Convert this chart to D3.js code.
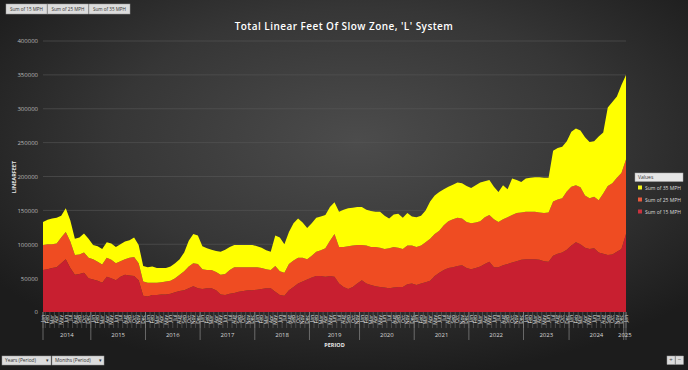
<!DOCTYPE html>
<html>
<head>
<meta charset="utf-8">
<script src="https://cdn.jsdelivr.net/npm/d3@7"></script>
<style>
  html, body { margin: 0; padding: 0; background: #222; }
  svg { display: block; }
  text { font-family: "Open Sans", "Noto Sans", sans-serif; }
</style>
</head>
<body>
<svg id="chart" width="688" height="370"></svg>
<script>
// ---------------- DATA ----------------
const title = "Total Linear Feet Of Slow Zone, 'L' System";
const seriesNames = ["Sum of 15 MPH", "Sum of 25 MPH", "Sum of 35 MPH"];
const years = ["2014","2015","2016","2017","2018","2019","2020","2021","2022","2023","2024","2025"];
const monthsByYear = [
  ["Jan","Feb","Mar","Apr","May","Jun","Jul","Aug","Sep","Oct","Dec"],
  ["Jan","Feb","Mar","Apr","May","Jun","Jul","Aug","Sep","Oct","Nov","Dec"],
  ["Jan","Feb","Mar","Apr","May","Jun","Jul","Aug","Sep","Oct","Nov","Dec"],
  ["Jan","Feb","Mar","Apr","May","Jun","Jul","Aug","Sep","Oct","Nov","Dec"],
  ["Jan","Feb","Mar","Apr","May","Jun","Jul","Aug","Sep","Oct","Nov","Dec"],
  ["Jan","Feb","Mar","Apr","May","Jun","Jul","Aug","Sep","Oct","Nov"],
  ["Jan","Feb","Mar","Apr","May","Jun","Jul","Aug","Sep","Oct","Nov","Dec"],
  ["Jan","Feb","Mar","Apr","May","Jun","Jul","Aug","Sep","Oct","Nov","Dec"],
  ["Jan","Feb","Mar","Apr","May","Jun","Jul","Aug","Sep","Oct","Nov","Dec"],
  ["Jan","Feb","Mar","Apr","May","Jun","Jul","Aug","Oct","Dec"],
  ["Jan","Feb","Mar","Apr","May","Jun","Jul","Aug","Sep","Oct","Nov","Dec"],
  ["Jan"]
];
// Values in linear feet, one per period, in period order
const mph15 = [
  62000,63000,65000,66000,72000,78000,65000,55000,56000,58000,50000,
  48000,46000,43000,52000,50000,47000,52000,55000,54000,53000,47000,24000,
  23000,25000,25000,26000,26000,27000,29000,31000,32000,35000,38000,35000,
  34000,35000,35000,32000,26000,25000,27000,28000,30000,31000,32000,32000,
  33000,34000,35000,35000,30000,25000,24000,32000,37000,42000,45000,48000,
  51000,53000,53000,52000,53000,52000,42000,37000,34000,37000,42000,
  47000,42000,40000,38000,37000,36000,35000,36000,37000,37000,41000,42000,
  40000,42000,44000,46000,53000,58000,62000,65000,66000,68000,69000,65000,
  63000,65000,67000,71000,74000,66000,66000,69000,71000,73000,75000,77000,
  78000,78000,78000,77000,75000,74000,83000,86000,88000,92000,
  98000,103000,100000,95000,93000,94000,88000,86000,84000,85000,89000,93000,
  115000
];
const mph25 = [
  37000,37000,35000,35000,38000,40000,39000,29000,29000,30000,30000,
  30000,28000,27000,28000,27000,25000,23000,23000,26000,28000,25000,21000,
  20000,18000,18000,18000,19000,19000,21000,24000,28000,32000,34000,36000,
  29000,27000,27000,27000,29000,31000,35000,38000,36000,35000,34000,34000,
  33000,31000,28000,27000,38000,35000,34000,39000,39000,38000,35000,30000,
  32000,36000,38000,42000,52000,63000,54000,59000,63000,61000,57000,
  52000,56000,56000,58000,58000,57000,59000,60000,58000,56000,57000,56000,
  56000,56000,59000,62000,62000,62000,66000,69000,71000,71000,69000,68000,
  68000,67000,67000,69000,69000,71000,67000,68000,69000,70000,71000,70000,
  70000,70000,70000,70000,71000,73000,80000,80000,80000,86000,
  87000,84000,84000,77000,75000,76000,77000,89000,102000,105000,109000,112000,
  110000
];
const mph35 = [
  34000,36000,38000,38000,32000,35000,31000,24000,25000,28000,28000,
  21000,23000,23000,23000,24000,24000,25000,26000,26000,29000,27000,23000,
  23000,24000,22000,21000,20000,21000,22000,23000,28000,38000,43000,42000,
  34000,32000,30000,31000,34000,36000,34000,33000,33000,33000,33000,33000,
  31000,30000,28000,27000,45000,50000,42000,47000,55000,58000,52000,46000,
  48000,50000,50000,49000,50000,47000,52000,55000,56000,56000,56000,
  56000,53000,53000,52000,53000,49000,44000,48000,50000,46000,48000,43000,
  44000,44000,47000,55000,57000,57000,53000,51000,51000,52000,52000,53000,
  52000,55000,57000,53000,52000,48000,44000,50000,41000,54000,49000,45000,
  49000,50000,51000,52000,52000,51000,75000,76000,76000,74000,
  81000,84000,84000,86000,83000,82000,94000,90000,116000,120000,120000,130000,
  125000
];
const yTicks = [0,50000,100000,150000,200000,250000,300000,350000,400000];

// ---------------- BUILD ----------------
const periods = [];
years.forEach((y, yi) => monthsByYear[yi].forEach(m => periods.push({year: y, month: m})));
const rows = periods.map((p, i) => ({
  i, year: p.year, month: p.month,
  "Sum of 15 MPH": mph15[i], "Sum of 25 MPH": mph25[i], "Sum of 35 MPH": mph35[i]
}));
const colors = {"Sum of 15 MPH": "#c81f30", "Sum of 25 MPH": "#ef4c22", "Sum of 35 MPH": "#ffff00"};
const legendColors = {"Sum of 15 MPH": "#c8323f", "Sum of 25 MPH": "#e85a3c", "Sum of 35 MPH": "#f2f21a"};

const W = 688, H = 370;
const plot = {left: 43, right: 626, top: 41, bottom: 312};
const svg = d3.select("#chart");

// background
const defs = svg.append("defs");
const rg = defs.append("radialGradient").attr("id", "bg")
  .attr("cx", "52%").attr("cy", "38%").attr("r", "65%");
rg.append("stop").attr("offset", "0%").attr("stop-color", "#4c4c4c");
rg.append("stop").attr("offset", "55%").attr("stop-color", "#363636");
rg.append("stop").attr("offset", "100%").attr("stop-color", "#1c1c1c");
svg.append("rect").attr("width", W).attr("height", H).attr("fill", "url(#bg)");

const x = d3.scaleLinear().domain([0, periods.length - 1]).range([plot.left, plot.right]);
const y = d3.scaleLinear().domain([0, 400000]).range([plot.bottom, plot.top]);

// gridlines
svg.append("g").selectAll("line").data(yTicks.slice(1)).join("line")
  .attr("x1", plot.left).attr("x2", plot.right)
  .attr("y1", d => y(d)).attr("y2", d => y(d))
  .attr("stroke", "#585858").attr("stroke-width", 0.6);

// y axis labels
const yAxis = d3.axisLeft(y).tickValues(yTicks).tickSize(0).tickPadding(5).tickFormat(d3.format("d"));
const gy = svg.append("g").attr("transform", `translate(${plot.left},0)`).call(yAxis);
gy.select(".domain").remove();
gy.selectAll("text").attr("fill", "#b8b8b8").style("font-size", "6px");

// stacked areas
const stack = d3.stack().keys(seriesNames);
const layers = stack(rows);
const area = d3.area().x(d => x(d.data.i)).y0(d => y(d[0])).y1(d => y(d[1]));
svg.append("g").selectAll("path").data(layers).join("path")
  .attr("d", area).attr("fill", d => colors[d.key]);

// x axis: month labels
const gx = svg.append("g");
gx.selectAll("text.month").data(periods).join("text")
  .attr("class", "month")
  .attr("transform", (d, i) => `translate(${x(i) + 1.8},${plot.bottom + 3}) rotate(-90)`)
  .attr("text-anchor", "end")
  .attr("fill", "#e6e6e6").style("font-size", "5px")
  .text(d => d.month);
// small category ticks
gx.selectAll("line.mt").data(d3.range(periods.length + 1)).join("line")
  .attr("class", "mt")
  .attr("x1", i => Math.min(plot.right, Math.max(plot.left, x(i - 0.5))))
  .attr("x2", i => Math.min(plot.right, Math.max(plot.left, x(i - 0.5))))
  .attr("y1", plot.bottom).attr("y2", plot.bottom + 16)
  .attr("stroke", "#8a8a8a").attr("stroke-width", 0.4);

// year groups
const yearGroups = [];
let start = 0;
years.forEach((yr, yi) => {
  const n = monthsByYear[yi].length;
  yearGroups.push({year: yr, first: start, last: start + n - 1});
  start += n;
});
const bx = (g, side) => side === "l"
  ? Math.max(plot.left, x(g.first - 0.5))
  : Math.min(plot.right, x(g.last + 0.5));
const dividers = [plot.left].concat(yearGroups.map(g => bx(g, "r")));
gx.selectAll("line.yd").data(dividers).join("line")
  .attr("class", "yd")
  .attr("x1", d => d).attr("x2", d => d)
  .attr("y1", plot.bottom).attr("y2", plot.bottom + 28)
  .attr("stroke", "#9a9a9a").attr("stroke-width", 0.6);
gx.selectAll("text.yr").data(yearGroups).join("text")
  .attr("class", "yr")
  .attr("x", g => (bx(g, "l") + bx(g, "r")) / 2).attr("y", plot.bottom + 25)
  .attr("text-anchor", "middle").attr("fill", "#d8d8d8").style("font-size", "6px")
  .text(g => g.year);

// axis titles
svg.append("text").attr("x", (plot.left + plot.right) / 2).attr("y", 347)
  .attr("text-anchor", "middle").attr("fill", "#e8e8e8")
  .style("font-size", "5.5px").style("font-weight", "700").text("PERIOD");
svg.append("text").attr("transform", "translate(16,177) rotate(-90)")
  .attr("text-anchor", "middle").attr("fill", "#e8e8e8")
  .style("font-size", "5.5px").style("font-weight", "700").text("LINEARFEET");

// title
svg.append("text").attr("x", 344).attr("y", 30).attr("text-anchor", "middle")
  .attr("fill", "#ffffff").style("font-size", "10px").style("font-weight", "600")
  .style("letter-spacing", "0.45px").text(title);

// top field buttons
const topBtns = ["Sum of 15 MPH", "Sum of 25 MPH", "Sum of 35 MPH"];
const tb = svg.append("g").selectAll("g").data(topBtns).join("g")
  .attr("transform", (d, i) => `translate(${6 + i * 41.5},4)`);
tb.append("rect").attr("width", 41).attr("height", 10).attr("fill", "#dcdcdc")
  .attr("stroke", "#9a9a9a").attr("stroke-width", 0.5);
tb.append("text").attr("x", 20.5).attr("y", 7).attr("text-anchor", "middle")
  .attr("fill", "#333").style("font-size", "4.6px").text(d => d);

// legend
const lg = svg.append("g").attr("transform", "translate(635,173)");
lg.append("rect").attr("width", 48).attr("height", 8.5).attr("fill", "#e6e6e6")
  .attr("stroke", "#aaaaaa").attr("stroke-width", 0.5);
lg.append("text").attr("x", 3).attr("y", 6.3).attr("fill", "#333")
  .style("font-size", "5px").text("Values");
const legendOrder = ["Sum of 35 MPH", "Sum of 25 MPH", "Sum of 15 MPH"];
const li = lg.selectAll("g.li").data(legendOrder).join("g").attr("class", "li")
  .attr("transform", (d, i) => `translate(3,${15 + i * 12})`);
li.append("rect").attr("x", 0).attr("y", -2.5).attr("width", 4).attr("height", 4)
  .attr("fill", d => legendColors[d]);
li.append("text").attr("x", 7).attr("y", 1.6).attr("fill", "#dddddd")
  .style("font-size", "5px").text(d => d);

// bottom-left dropdowns
const ddData = [{t: "Years (Period)", x: 2, w: 49}, {t: "Months (Period)", x: 52, w: 52}];
const dd = svg.append("g").selectAll("g").data(ddData).join("g")
  .attr("transform", d => `translate(${d.x},356)`);
dd.append("rect").attr("width", d => d.w).attr("height", 9).attr("fill", "#dcdcdc")
  .attr("stroke", "#9a9a9a").attr("stroke-width", 0.5);
dd.append("text").attr("x", 3).attr("y", 6.3).attr("fill", "#333")
  .style("font-size", "4.8px").text(d => d.t);
dd.append("text").attr("x", d => d.w - 5).attr("y", 6.3).attr("fill", "#333")
  .style("font-size", "4.5px").text("▾");

// bottom-right +/- buttons
const pm = svg.append("g").selectAll("g").data(["+", "−"]).join("g")
  .attr("transform", (d, i) => `translate(${667 + i * 8.5},356)`);
pm.append("rect").attr("width", 8).attr("height", 8.5).attr("fill", "#dcdcdc")
  .attr("stroke", "#9a9a9a").attr("stroke-width", 0.5);
pm.append("text").attr("x", 4).attr("y", 6.3).attr("text-anchor", "middle")
  .attr("fill", "#444").style("font-size", "6px").text(d => d);
</script>
</body>
</html>
